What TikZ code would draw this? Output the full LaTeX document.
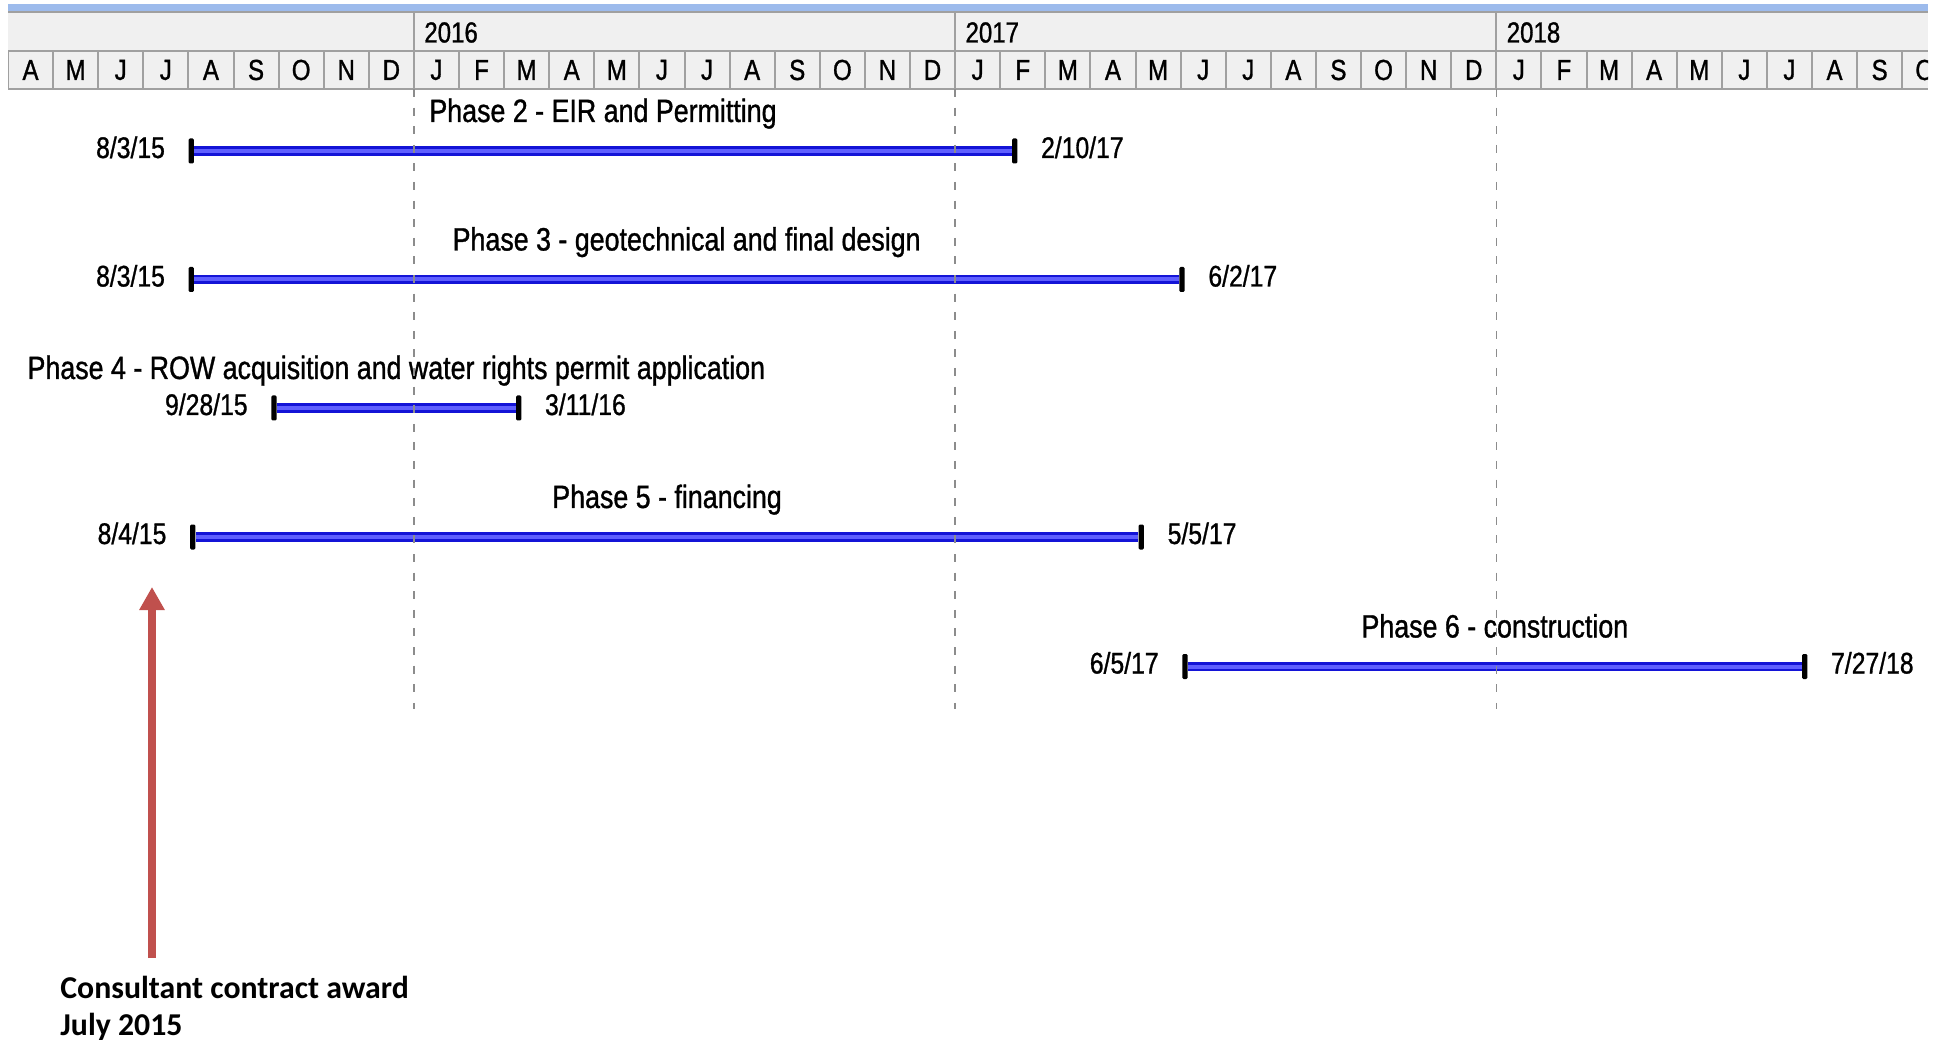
\documentclass[tikz,border=0pt]{standalone}
\usepackage{fontspec}
\setmainfont{Liberation Sans}
\newfontfamily\ganttfont{Liberation Sans}[FakeStretch=0.83,FakeBold=1]
\newfontfamily\awardfont{Carlito}
\usetikzlibrary{arrows.meta,calc,positioning}

\definecolor{hdrblue}{RGB}{157,187,236}
\definecolor{hdrgray}{RGB}{240,240,240}
\definecolor{hdrline}{RGB}{160,160,160}
\definecolor{dashgray}{RGB}{140,140,140}
\definecolor{barblue}{RGB}{20,20,215}
\definecolor{barlight}{RGB}{95,95,255}
\definecolor{awardred}{RGB}{192,80,77}

\begin{document}
\begin{tikzpicture}[x=0.5pt,y=-0.5pt,
  monthcell/.style={font=\ganttfont\fontsize{14.5}{16}\selectfont,inner sep=0pt},
  yearlabel/.style={font=\ganttfont\fontsize{14.5}{16}\selectfont,anchor=west,inner sep=0pt},
  gridline/.style={draw=hdrline,line width=1pt},
  yearrule/.style={draw=dashgray,line width=0.75pt,dash pattern=on 4pt off 5.3pt},
  endtick/.style={fill=black,minimum width=2.6pt,minimum height=12.5pt,inner sep=0pt,rounded corners=0.6pt},
  phasebar/.style={draw=barblue,line width=4.6pt},
  barcore/.style={draw=barlight,line width=2pt},
  phaselabel/.style={font=\ganttfont\fontsize{16.15}{18}\selectfont,anchor=base,inner sep=0pt},
  datelabel/.style={font=\ganttfont\fontsize{14.9}{17}\selectfont,inner sep=0pt},
  awardnote/.style={font=\awardfont\bfseries\fontsize{15.9}{18.5}\selectfont,align=left,inner sep=0pt},
  awardarrow/.style={draw=awardred,line width=4pt,-{Triangle[length=11.5pt,width=12pt]}}
]
  \useasboundingbox (0,0) rectangle (1940,1043);

  % timescale header
  \fill[hdrblue] (8,4) rectangle (1928,11);
  \fill[hdrgray] (8,12) rectangle (1928,89);
  \draw[gridline] (8,12) -- (1928,12);
  \draw[gridline] (8,51) -- (1928,51);
  \draw[gridline] (8,89) -- (1928,89);
  \begin{scope}
    \clip (8,0) rectangle (1928,100);
    \foreach \m [count=\i from 0] in {A,M,J,J,A,S,O,N,D,
        J,F,M,A,M,J,J,A,S,O,N,D,J,F,M,A,M,J,J,A,S,O,N,D,J,F,M,A,M,J,J,A,S,O}{
      \node[monthcell] (m\i) at ({8+45.1*(\i+0.5)},70) {\m};
      \draw[gridline] ({8+45.1*\i},51) -- ({8+45.1*\i},89);
    }
  \end{scope}
  \foreach \yr/\i in {2016/9,2017/21,2018/33}{
    \draw[gridline] ({8+45.1*\i},12) -- ({8+45.1*\i},89);
    \node[yearlabel] (y\yr) at ({8+45.1*\i+10},32.5) {\yr};
  }

  % Phase 2
  \node[endtick] (p2s) at (191.3,151) {};
  \node[endtick] (p2e) at (1014.7,151) {};
  \draw[phasebar] (p2s) -- (p2e);
  \draw[barcore] (p2s) -- (p2e);
  \node[phaselabel] (p2l) at ($(p2s)!0.5!(p2e)+(0,-29)$) {Phase 2 - EIR and Permitting};
  \node[datelabel,anchor=base east] (p2a) at ($(p2s)+(-26,7)$) {8/3/15};
  \node[datelabel,anchor=base west] (p2b) at ($(p2e)+(26,7)$) {2/10/17};

  % Phase 3
  \node[endtick] (p3s) at (191.3,279.5) {};
  \node[endtick] (p3e) at (1182,279.5) {};
  \draw[phasebar] (p3s) -- (p3e);
  \draw[barcore] (p3s) -- (p3e);
  \node[phaselabel] (p3l) at ($(p3s)!0.5!(p3e)+(0,-29)$) {Phase 3 - geotechnical and final design};
  \node[datelabel,anchor=base east] (p3a) at ($(p3s)+(-26,7)$) {8/3/15};
  \node[datelabel,anchor=base west] (p3b) at ($(p3e)+(26,7)$) {6/2/17};

  % Phase 4
  \node[endtick] (p4s) at (274,408) {};
  \node[endtick] (p4e) at (518.7,408) {};
  \draw[phasebar] (p4s) -- (p4e);
  \draw[barcore] (p4s) -- (p4e);
  \node[phaselabel] (p4l) at ($(p4s)!0.5!(p4e)+(0,-29)$) {Phase 4 - ROW acquisition and water rights permit application};
  \node[datelabel,anchor=base east] (p4a) at ($(p4s)+(-26,7)$) {9/28/15};
  \node[datelabel,anchor=base west] (p4b) at ($(p4e)+(26,7)$) {3/11/16};

  % Phase 5
  \node[endtick] (p5s) at (192.8,537) {};
  \node[endtick] (p5e) at (1141.3,537) {};
  \draw[phasebar] (p5s) -- (p5e);
  \draw[barcore] (p5s) -- (p5e);
  \node[phaselabel] (p5l) at ($(p5s)!0.5!(p5e)+(0,-29)$) {Phase 5 - financing};
  \node[datelabel,anchor=base east] (p5a) at ($(p5s)+(-26,7)$) {8/4/15};
  \node[datelabel,anchor=base west] (p5b) at ($(p5e)+(26,7)$) {5/5/17};

  % Phase 6
  \node[endtick] (p6s) at (1185,666.5) {};
  \node[endtick] (p6e) at (1804.7,666.5) {};
  \draw[phasebar] (p6s) -- (p6e);
  \draw[barcore] (p6s) -- (p6e);
  \node[phaselabel] (p6l) at ($(p6s)!0.5!(p6e)+(0,-29)$) {Phase 6 - construction};
  \node[datelabel,anchor=base east] (p6a) at ($(p6s)+(-26,7)$) {6/5/17};
  \node[datelabel,anchor=base west] (p6b) at ($(p6e)+(26,7)$) {7/27/18};

  % year boundaries
  \foreach \i in {9,21,33}
    \draw[yearrule] ({8+45.1*\i},89) -- ({8+45.1*\i},709);

  % contract award
  \coordinate (tip) at (152,587);
  \coordinate (foot) at (152,958);
  \draw[awardarrow] (foot) -- (tip);
  \node[awardnote,anchor=north west] (award) at (60,976) {Consultant contract award\\July 2015};
\end{tikzpicture}
\end{document}
